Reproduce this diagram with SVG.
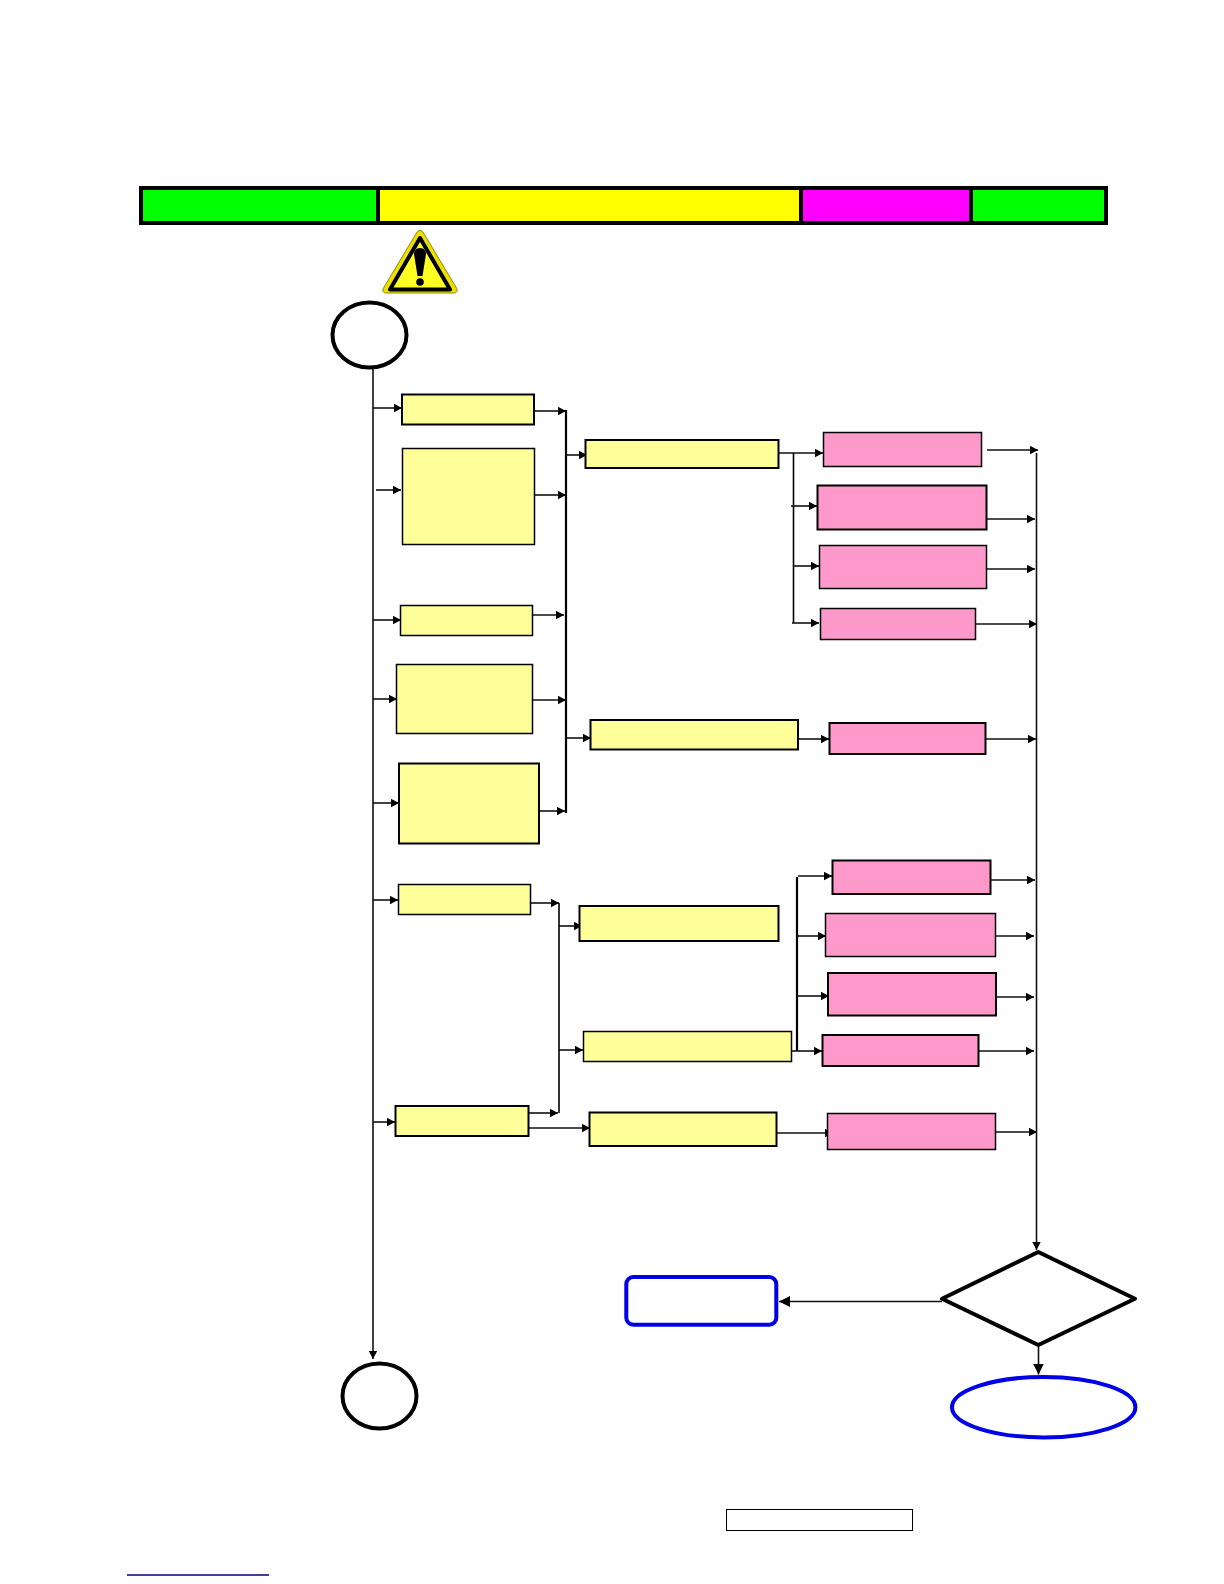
<svg xmlns="http://www.w3.org/2000/svg" width="1224" height="1584" viewBox="0 0 1224 1584">
<style>
.y{fill:#ffff99;stroke:#000;stroke-width:1.5}
.p{fill:#ff99cc;stroke:#000;stroke-width:1.5}
.t{stroke-width:2}
.c{fill:none;stroke:#111;stroke-width:1.6}
.a{marker-end:url(#ah)}
.b{marker-end:url(#big)}
.bus{fill:none;stroke:#000;stroke-width:1.6}
.busT{stroke-width:2.2}
</style>
<defs>
<marker id="ah" markerUnits="userSpaceOnUse" markerWidth="9" markerHeight="9" refX="8" refY="4.500" orient="auto"><path d="M0 0.300L8 4.500L0 8.700Z" fill="#000"/></marker>
<marker id="big" markerUnits="userSpaceOnUse" markerWidth="12" markerHeight="12" refX="11" refY="5.500" orient="auto"><path d="M0 0L11 5.500L0 11Z" fill="#000"/></marker>
</defs>
<rect width="1224" height="1584" fill="#fff"/>
<g id="header">
<rect x="141" y="188" width="965" height="35" fill="#000" stroke="#000" stroke-width="4"/>
<rect x="143" y="190" width="233" height="31" fill="#00ff00"/>
<rect x="380" y="190" width="419" height="31" fill="#ffff00"/>
<rect x="803" y="190" width="166" height="31" fill="#ff00ff"/>
<rect x="973" y="190" width="131" height="31" fill="#00ff00"/>
</g>
<g id="warning">
<path d="M420 230.500C421.500 230.500 422.500 231 423.500 233L456.500 288C458 291 456.500 293 454 293H386C383.500 293 382 291 383.500 288L416.500 233C417.500 231 418.500 230.500 420 230.500Z" fill="#ece000" stroke="#8a8a10" stroke-width="1"/>
<path d="M420 238L450 289.500H390Z" fill="#ffff22" stroke="#000" stroke-width="4" stroke-linejoin="round"/>
<path d="M420 248C424 248 426 251 426 254L422.500 276H417.500L414 254C414 251 416 248 420 248Z" fill="#000"/>
<circle cx="420" cy="282" r="3.800" fill="#000"/>
</g>
<g id="connectors">
<path class="c a" d="M373 369V1359"/>
<path class="c a" d="M373 408H402"/><path class="c a" d="M534 411H566"/>
<path class="c a" d="M376 490H401"/><path class="c a" d="M535 495H566"/>
<path class="c a" d="M373 620H401"/><path class="c a" d="M531 615H564" stroke-width="2"/>
<path class="c a" d="M373 699H397"/><path class="c a" d="M533 700H566"/>
<path class="c a" d="M373 803H399"/><path class="c a" d="M540 811H565"/>
<path class="bus busT" d="M566 410V813"/>
<path class="c a" d="M567 455H587"/><path class="c a" d="M567 738H591"/>
<path class="c a" d="M778 453H823"/>
<path class="bus" d="M793.500 453V623"/>
<path class="c a" d="M791 506H817"/><path class="c a" d="M793 566H819"/><path class="c a" d="M792 623H819"/>
<path class="c a" d="M798 739H829"/>
<path class="c a" d="M987 450H1038"/><path class="c a" d="M985 519H1035"/><path class="c a" d="M987 569H1035"/><path class="c a" d="M976 624H1037"/><path class="c a" d="M985 739H1036"/>
<path class="c a" d="M373 900H398"/><path class="c a" d="M527 903H559"/>
<path class="c a" d="M373 1122H395"/><path class="c a" d="M526 1113H558"/>
<path class="bus" d="M559 903V1113"/>
<path class="c a" d="M559 926H582"/><path class="c a" d="M559 1050H583"/>
<path class="c a" d="M528 1128H590"/>
<path class="bus busT" d="M797 877V1051"/>
<path class="c a" d="M798 876H832"/><path class="c a" d="M797 936H826"/><path class="c a" d="M797 996H829"/><path class="c a" d="M791 1051H822"/>
<path class="c a" d="M777 1133H833"/>
<path class="c a" d="M991 880H1035"/><path class="c a" d="M996 936H1034"/><path class="c a" d="M996 997H1034"/><path class="c a" d="M979 1051H1034"/><path class="c a" d="M996 1132H1037"/>
<path class="c a" d="M1036.500 453V1250" stroke-width="1.700"/>
<path class="c b" d="M942 1301.500H779"/>
<path class="c b" d="M1038.500 1345V1374.500"/>
</g>
<g id="start"><ellipse cx="369.500" cy="335" rx="37" ry="32.500" fill="#fff" stroke="#000" stroke-width="4"/></g>
<g id="end"><ellipse cx="379.500" cy="1396" rx="37" ry="32.500" fill="#fff" stroke="#000" stroke-width="4"/></g>
<g id="y1"><rect class="y t" x="402" y="394.500" width="132" height="30"/></g>
<g id="y2"><rect class="y" x="402.500" y="448.500" width="132" height="96"/></g>
<g id="y3"><rect class="y" x="400.500" y="605.500" width="132" height="30"/></g>
<g id="y4"><rect class="y" x="396.500" y="664.500" width="136" height="69"/></g>
<g id="y5"><rect class="y t" x="399" y="763.500" width="140" height="80"/></g>
<g id="y6"><rect class="y t" x="585.500" y="440" width="193" height="28"/></g>
<g id="y7"><rect class="y t" x="590.500" y="720" width="207.500" height="29.500"/></g>
<g id="y8"><rect class="y" x="398.500" y="884.500" width="132" height="30"/></g>
<g id="y9"><rect class="y t" x="395.500" y="1106" width="133" height="30"/></g>
<g id="y10"><rect class="y t" x="579.500" y="906" width="199" height="35"/></g>
<g id="y11"><rect class="y" x="583.500" y="1031.500" width="208" height="30"/></g>
<g id="y12"><rect class="y t" x="589.500" y="1112.500" width="187" height="33.500"/></g>
<g id="p1"><rect class="p" x="823.500" y="432.500" width="158" height="34"/></g>
<g id="p2"><rect class="p t" x="817.500" y="485.500" width="169" height="44"/></g>
<g id="p3"><rect class="p" x="819.500" y="545.500" width="167" height="43"/></g>
<g id="p4"><rect class="p" x="820.500" y="608.500" width="155" height="31"/></g>
<g id="p5"><rect class="p t" x="829.500" y="723" width="156" height="31"/></g>
<g id="p6"><rect class="p t" x="832.500" y="860.500" width="158" height="33.500"/></g>
<g id="p7"><rect class="p" x="825.500" y="913.500" width="170" height="43"/></g>
<g id="p8"><rect class="p t" x="828" y="973" width="168" height="42.500"/></g>
<g id="p9"><rect class="p t" x="822.500" y="1035" width="156" height="31"/></g>
<g id="p10"><rect class="p" x="827.500" y="1113.500" width="168" height="36"/></g>
<g id="decision"><path d="M1038.300 1252L1135 1298.700L1038.300 1345L942 1298.700Z" fill="#fff" stroke="#000" stroke-width="4" stroke-linejoin="round"/></g>
<g id="reject"><rect x="626.300" y="1277" width="150" height="47.700" rx="7" fill="#fff" stroke="#0000e6" stroke-width="4"/></g>
<g id="finish"><ellipse cx="1043.700" cy="1407.200" rx="91.700" ry="30.200" fill="#fff" stroke="#0000e6" stroke-width="4"/></g>
<g id="footer-box"><rect x="726.500" y="1509.500" width="186" height="21" fill="#fff" stroke="#000" stroke-width="1"/></g>
<path id="footer-line" d="M127 1575H269" stroke="#000080" stroke-width="1.300" fill="none"/>
</svg>
